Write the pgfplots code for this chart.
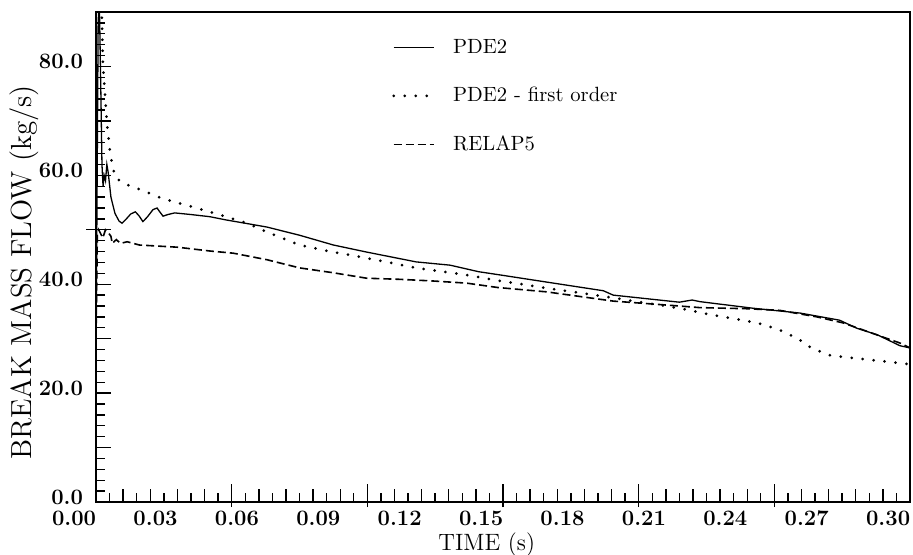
\documentclass[border=0pt]{standalone}
\usepackage{fontspec}
\usepackage{pgfplots}
\pgfplotsset{compat=1.18}

\begin{document}
\begin{tikzpicture}
\begin{axis}[
  name=ax,
  width=407pt, height=245pt, scale only axis,
  xmin=0, xmax=0.30, ymin=0, ymax=90,
  clip mode=individual,
  axis line style={line width=0.9pt},
  xtick pos=left, ytick pos=left,
  tick style={line width=0.7pt, black},
  tick align=inside,
  xtick={0,0.03,0.06,0.09,0.12,0.15,0.18,0.21,0.24,0.27,0.30},
  xticklabels={0.00,0.03,0.06,0.09,0.12,0.15,0.18,0.21,0.24,0.27,0.30},
  major x tick style={draw=none},
  minor xtick={0.005,0.015,0.025,0.035,0.045,0.055,0.065,0.075,0.085,0.095,0.105,0.115,0.125,0.135,0.145,0.155,0.165,0.175,0.185,0.195,0.205,0.215,0.225,0.235,0.245,0.255,0.265,0.275,0.285,0.295},
  minor tick length=4.6pt,
  major tick length=7.5pt,
  ytick={0,10,20,30,40,50,60,70,80},
  yticklabels={0.0,,20.0,,40.0,,60.0,,80.0},
  minor ytick={2,4,6,8,12,14,16,18,22,24,26,28,32,34,36,38,42,44,46,48,52,54,56,58,62,64,66,68,72,74,76,78,82,84,86,88},
  xticklabel style={anchor=north east, xshift=3.6pt, yshift=-1pt, font=\fontsize{11}{12}\selectfont\bfseries},
  yticklabel style={yshift=2.5pt, xshift=-3pt, font=\fontsize{11}{12}\selectfont\bfseries},
  xlabel={TIME (s)},
  xlabel style={at={(rel axis cs:0.48,-0.086)}, anchor=center, inner sep=0pt, font=\fontsize{11.8}{13}\selectfont},
  ylabel={BREAK MASS FLOW (kg/s)},
  ylabel style={at={(rel axis cs:-0.0885,0.469)}, anchor=center, inner sep=0pt, font=\fontsize{14.5}{16}\selectfont},
  legend image code/.code={\draw[#1] (0pt,0pt) -- (20pt,0pt); \path (24pt,0pt);},
  legend cell align=left,
  legend style={at={(rel axis cs:0.356,0.962)}, anchor=north west, draw=none, fill=none,
    row sep=11.5pt, font=\fontsize{10.3}{11}\selectfont,
    nodes={inner xsep=5pt}},
]
% PDE2 (solid)
\addplot[black, line width=0.65pt] coordinates {
(0,27) (0.0008,88) (0.0012,93) (0.0018,75) (0.0022,62) (0.0026,58) (0.003,60) (0.0035,59)
(0.004,62) (0.0045,60.5) (0.0055,56) (0.007,53) (0.0085,51.6) (0.0096,51.2) (0.011,51.9)
(0.0128,52.9) (0.0145,53.3) (0.0158,52.6) (0.0173,51.5) (0.019,52.4) (0.021,53.7) (0.0225,54)
(0.0235,53.3) (0.0247,52.5) (0.0265,52.8) (0.029,53.1) (0.035,52.8) (0.042,52.4) (0.048,51.8)
(0.055,51.2) (0.063,50.5) (0.075,49.0) (0.0875,47.2) (0.0998,45.9) (0.118,44.1) (0.1305,43.5)
(0.141,42.3) (0.149,41.7) (0.166,40.4) (0.187,38.8) (0.1906,38.0) (0.215,36.7) (0.2197,37.1)
(0.2226,36.8) (0.242,35.6) (0.2595,34.7) (0.274,33.4) (0.2805,31.9) (0.288,30.7) (0.2963,28.7) (0.30,28.3)
};
\addlegendentry{PDE2}
% PDE2 - first order (dotted)
\addplot[black, line width=1.5pt, line cap=round, dash pattern=on 0pt off 5.5pt] coordinates {
(0.0015,95) (0.0022,88.5) (0.0026,80) (0.0033,75) (0.004,69.6) (0.0048,66) (0.0052,64)
(0.007,59.7) (0.01,58.5) (0.0137,57.9) (0.0247,55.7) (0.037,54) (0.048,52.4) (0.0557,51.2)
(0.063,49.6) (0.075,47.2) (0.0875,45.9) (0.0998,44.8) (0.118,43.0) (0.1366,41.7) (0.149,40.6)
(0.166,39.3) (0.1906,37.5) (0.215,35.6) (0.2245,34.6) (0.2337,33.8) (0.2436,32.9) (0.251,31.8)
(0.2584,30.1) (0.263,28.5) (0.2698,27.0) (0.278,26.5) (0.289,25.9) (0.30,25.3)
};
\addlegendentry{PDE2 - first order}
% RELAP5 (dashed)
\addplot[black, line width=0.8pt, dash pattern=on 4pt off 2pt] coordinates {
(0,30) (0.0005,49) (0.001,50) (0.0025,48.5) (0.0035,50) (0.0045,49.5) (0.0055,48.8) (0.006,47.5)
(0.0075,48.2) (0.009,47.5) (0.0115,47.8) (0.016,47.2) (0.03,46.8) (0.042,46.1) (0.0506,45.7)
(0.063,44.5) (0.075,43.0) (0.0875,42.1) (0.0998,41.1) (0.112,40.9) (0.124,40.6) (0.1366,40.2)
(0.148,39.4) (0.166,38.6) (0.1906,36.9) (0.215,36.0) (0.2226,35.7) (0.24,35.5) (0.252,35.2)
(0.2657,34.0) (0.2753,32.9) (0.2827,31.6) (0.29,30.3) (0.2963,29.2) (0.30,28.3)
};
\addlegendentry{RELAP5}
% medium x ticks every 0.01
\pgfplotsinvokeforeach{0.01,0.02,0.03,0.04,0.06,0.07,0.08,0.09,0.11,0.12,0.13,0.14,0.16,0.17,0.18,0.19,0.21,0.22,0.23,0.24,0.26,0.27,0.28,0.29}{
  \draw[line width=0.7pt] (axis cs:#1,0) -- ++(0,6.5pt);
}
% long x ticks every 0.05
\pgfplotsinvokeforeach{0.05,0.10,0.15,0.20,0.25}{
  \draw[line width=0.7pt] (axis cs:#1,0) ++(0,-2.5pt) -- ++(0,11.5pt);
}
\draw[line width=0.7pt] (axis cs:0,50) -- ++(-5pt,0);
\end{axis}
\pgfresetboundingbox
\path ([shift={(-48pt,-26.5pt)}]ax.south west) rectangle ([shift={(1.5pt,6pt)}]ax.north east);
\end{tikzpicture}
\end{document}
